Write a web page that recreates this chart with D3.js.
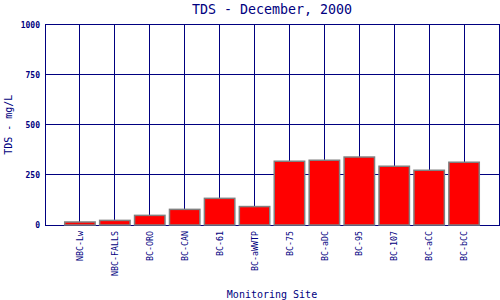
<!DOCTYPE html>
<html>
<head>
<meta charset="utf-8">
<script src="https://cdn.jsdelivr.net/npm/d3@7"></script>
<style>
  body { margin: 0; background: #fff; }
  svg { display: block; }
  text { fill: #000080; font-family: "DejaVu Sans Mono", "Liberation Mono", monospace; }
</style>
</head>
<body>
<svg id="chart" width="500" height="300"></svg>
<script>
// Values
const sites = ['NBC-Lw', 'NBC-FALLS', 'BC-ORO', 'BC-CAN', 'BC-61', 'BC-aWWTP',
  'BC-75', 'BC-aDC', 'BC-95', 'BC-107', 'BC-aCC', 'BC-bCC'];
const tds = [15, 23, 48, 78, 133, 92, 318, 323, 339, 293, 273, 313];
const yTicks = [0, 250, 500, 750, 1000];

const width = 500, height = 300;
const margin = { top: 24.5, right: 1, bottom: 75, left: 45 };
const navy = '#000080';

const svg = d3.select('#chart');

const x = d3.scalePoint()
  .domain(sites)
  .range([margin.left, width - margin.right])
  .padding(1);

const y = d3.scaleLinear()
  .domain([0, 1000])
  .range([height - margin.bottom, margin.top]);

// Grid lines
svg.append('g')
  .attr('shape-rendering', 'crispEdges')
  .selectAll('line')
  .data(yTicks)
  .join('line')
  .attr('x1', margin.left)
  .attr('x2', width - margin.right)
  .attr('y1', d => y(d))
  .attr('y2', d => y(d))
  .attr('stroke', navy)
  .attr('stroke-width', 1);

svg.append('g')
  .attr('shape-rendering', 'crispEdges')
  .selectAll('line')
  .data(sites)
  .join('line')
  .attr('x1', d => x(d))
  .attr('x2', d => x(d))
  .attr('y1', y(0))
  .attr('y2', y(1000))
  .attr('stroke', navy)
  .attr('stroke-width', 1);

// Frame
svg.append('rect')
  .attr('shape-rendering', 'crispEdges')
  .attr('x', margin.left)
  .attr('y', y(1000))
  .attr('width', width - margin.right - margin.left)
  .attr('height', y(0) - y(1000))
  .attr('fill', 'none')
  .attr('stroke', navy)
  .attr('stroke-width', 1);

// Bars
const barW = x.step() - 4.5;
svg.append('g')
  .selectAll('rect')
  .data(sites)
  .join('rect')
  .attr('x', d => x(d) - barW / 2)
  .attr('y', (d, i) => y(tds[i]))
  .attr('width', barW)
  .attr('height', (d, i) => y(0) - y(tds[i]))
  .attr('fill', '#ff0000')
  .attr('stroke', '#808080')
  .attr('stroke-width', 1.5);

// Axes (labels only, no tick marks)
const yAxis = svg.append('g')
  .attr('transform', `translate(${margin.left},0)`)
  .call(d3.axisLeft(y).tickValues(yTicks).tickFormat(d3.format('d')).tickSize(0).tickPadding(5));
yAxis.select('.domain').remove();
yAxis.selectAll('text')
  .attr('font-size', 8)
  .attr('font-weight', 'bold')
  .attr('font-family', '"DejaVu Sans Mono", monospace')
  .attr('fill', navy);

const xAxis = svg.append('g')
  .attr('transform', `translate(0,${y(0)})`)
  .call(d3.axisBottom(x).tickSize(0));
xAxis.select('.domain').remove();
xAxis.selectAll('text')
  .attr('font-size', 8.3)
  .attr('font-family', '"DejaVu Sans Mono", monospace')
  .attr('fill', navy)
  .attr('transform', 'rotate(-90)')
  .attr('text-anchor', 'end')
  .attr('dy', '0.32em')
  .attr('x', -6)
  .attr('y', 0);

// Titles
const cx = (margin.left + width - margin.right) / 2;
svg.append('text')
  .attr('x', cx)
  .attr('y', 13.5)
  .attr('text-anchor', 'middle')
  .attr('font-size', 13.3)
  .text('TDS - December, 2000');

svg.append('text')
  .attr('x', cx)
  .attr('y', 298)
  .attr('text-anchor', 'middle')
  .attr('font-size', 10)
  .text('Monitoring Site');

svg.append('text')
  .attr('transform', `translate(12,${(y(0) + y(1000)) / 2}) rotate(-90)`)
  .attr('text-anchor', 'middle')
  .attr('font-size', 10)
  .text('TDS - mg/L');
</script>
</body>
</html>
